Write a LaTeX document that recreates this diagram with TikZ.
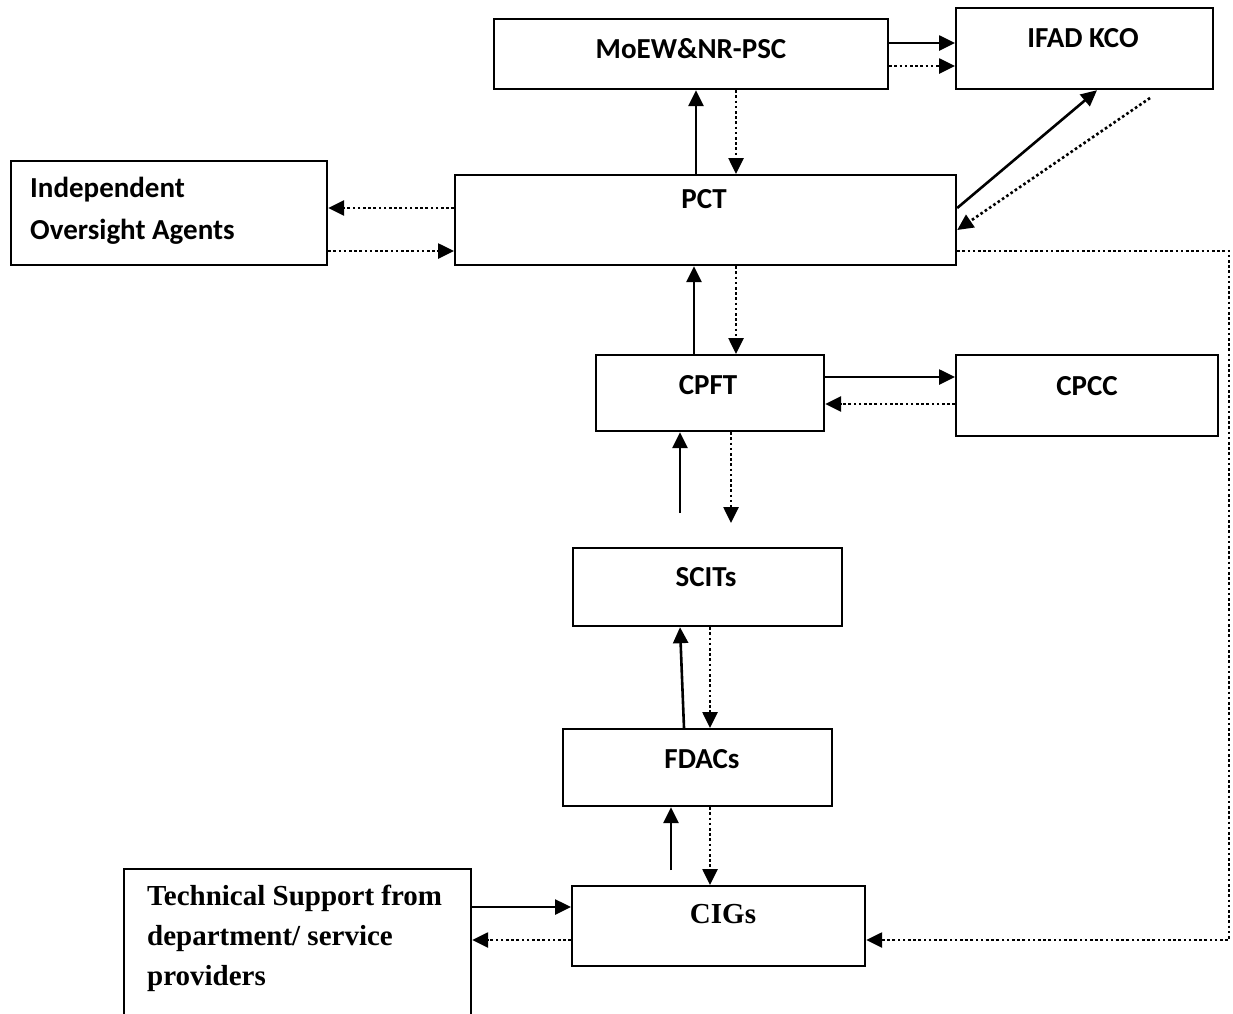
\documentclass[tikz,border=0pt]{standalone}
\usepackage{fontspec}
\setmainfont{Liberation Serif}
\newfontfamily\calib{Carlito}
\usetikzlibrary{arrows.meta}
\tikzset{
  box/.style={draw, line width=2.2pt, anchor=north west, inner sep=0pt},
  lbl/.style={font=\calib\fontsize{29}{34}\selectfont\bfseries, inner sep=0pt, anchor=center},
  slbl/.style={font=\fontsize{29}{40}\selectfont\bfseries, inner sep=0pt},
  sarr/.style={line width=2.6pt, -{Triangle[length=16pt,width=15pt]}},
  darr/.style={line width=2.6pt, dash pattern=on 2.6pt off 2.6pt, -{Triangle[length=16pt,width=15pt]}},
}
\begin{document}
\begin{tikzpicture}[x=1pt,y=-1pt]
\useasboundingbox (0,0) rectangle (1233,1013);
% boxes
\node[box, minimum width=394pt, minimum height=70pt] (moew) at (493,18) {};
\node[box, minimum width=257pt, minimum height=81pt] (ifad) at (955,7) {};
\node[box, minimum width=316pt, minimum height=104pt] (ioa) at (10,160) {};
\node[box, minimum width=501pt, minimum height=90pt] (pct) at (454,174) {};
\node[box, minimum width=228pt, minimum height=76pt] (cpft) at (595,354) {};
\node[box, minimum width=262pt, minimum height=81pt] (cpcc) at (955,354) {};
\node[box, minimum width=269pt, minimum height=78pt] (scits) at (572,547) {};
\node[box, minimum width=269pt, minimum height=77pt] (fdacs) at (562,728) {};
\node[box, minimum width=293pt, minimum height=80pt] (cigs) at (571,885) {};
\node[box, minimum width=347pt, minimum height=160pt] (tech) at (123,868) {};
% labels
\node[lbl] (moewt) at (691,49) {MoEW\&NR-PSC};
\node[lbl] (ifadt) at (1083,38) {IFAD KCO};
\node[lbl, anchor=west, align=left, font=\calib\fontsize{29}{42}\selectfont\bfseries] (ioat) at (30,211) {Independent\\Oversight Agents};
\node[lbl] (pctt) at (704,199) {PCT};
\node[lbl] (cpftt) at (708,385) {CPFT};
\node[lbl] (cpcct) at (1087,386) {CPCC};
\node[lbl] (scitst) at (706,577) {SCITs};
\node[lbl] (fdacst) at (702,759) {FDACs};
\node[slbl, anchor=center] (cigst) at (723,914) {CIGs};
\node[slbl, anchor=north west, align=left] (techt) at (147,885) {Technical Support from\\department/ service\\providers};
% connectors top
\draw[sarr] (moew.east |- 0,43) -- (ifad.west |- 0,43);
\draw[darr] (moew.east |- 0,66) -- (ifad.west |- 0,66);
\draw[sarr] (pct.north -| 696,0) -- (moew.south -| 696,0);
\draw[darr] (moew.south -| 736,0) -- (pct.north -| 736,0);
\draw[sarr] (pct.east |- 0,208) -- (ifad.south -| 1097,0);
\coordinate (ifadfree) at (1150,98);
\draw[darr] (ifadfree) -- (pct.east |- 0,230);
\draw[darr] (pct.west |- 0,208) -- (ioa.east |- 0,208);
\draw[darr] (ioa.east |- 0,251) -- (pct.west |- 0,251);
\coordinate (rc1) at (1229,251);
\coordinate (rc2) at (1229,940);
\draw[darr] (pct.east |- 0,251) -- (rc1) -- (rc2) -- (cigs.east |- 0,940);
% middle
\draw[sarr] (cpft.north -| 694,0) -- (pct.south -| 694,0);
\draw[darr] (pct.south -| 736,0) -- (cpft.north -| 736,0);
\draw[sarr] (cpft.east |- 0,377) -- (cpcc.west |- 0,377);
\draw[darr] (cpcc.west |- 0,404) -- (cpft.east |- 0,404);
\coordinate (g1) at (680,513);
\coordinate (g2) at (731,523);
\draw[sarr] (g1) -- (cpft.south -| 680,0);
\draw[darr] (cpft.south -| 731,0) -- (g2);
\draw[sarr] (fdacs.north -| 684,0) -- (scits.south -| 680,0);
\draw[darr] (scits.south -| 710,0) -- (fdacs.north -| 710,0);
\coordinate (g3) at (671,870);
\draw[sarr] (g3) -- (fdacs.south -| 671,0);
\draw[darr] (fdacs.south -| 710,0) -- (cigs.north -| 710,0);
% bottom
\draw[sarr] (tech.east |- 0,907) -- (cigs.west |- 0,907);
\draw[darr] (cigs.west |- 0,940) -- (tech.east |- 0,940);
\end{tikzpicture}
\end{document}
